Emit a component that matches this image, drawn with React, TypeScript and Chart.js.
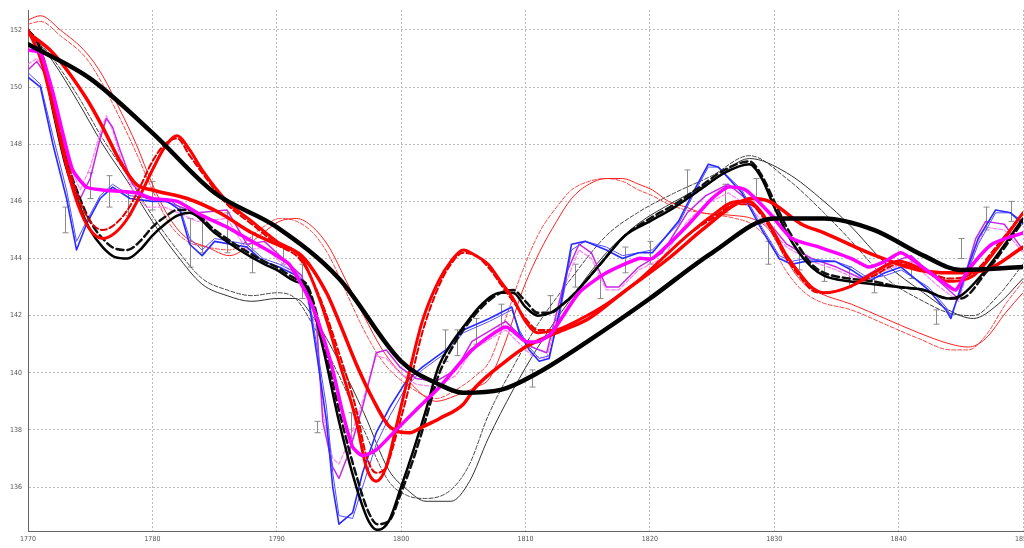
import React, { useEffect, useRef } from "react";
import { Chart, registerables } from "chart.js";
Chart.register(...registerables);

const X_TICKS = [1770, 1780, 1790, 1800, 1810, 1820, 1830, 1840, 1850];
const Y_TICKS = [136, 138, 140, 142, 144, 146, 148, 150, 152];

// Thick smooth black
const A_YEARS = [1770, 1775, 1780, 1785, 1790, 1795, 1800, 1803, 1805, 1808, 1811, 1815, 1820, 1825, 1830, 1834, 1838, 1842, 1845, 1850];
const A_VALS = [151.5, 150.3, 148.4, 146.3, 145.1, 143.3, 140.4, 139.6, 139.3, 139.4, 140.0, 141.1, 142.6, 144.2, 145.4, 145.4, 145.0, 144.1, 143.6, 143.7];

// Medium black (solid + dashed)
const B_YEARS = [1770, 1771, 1772, 1773, 1774, 1775, 1776, 1777, 1778, 1779, 1780, 1781, 1782, 1783, 1785, 1787, 1789, 1790, 1791.5, 1792.4, 1793.7, 1795, 1796.4, 1797.4, 1798.1, 1799, 1800, 1801, 1802, 1803, 1804, 1805, 1806.5, 1808, 1809, 1810, 1811, 1812, 1813, 1814, 1816, 1818, 1820, 1822, 1824, 1826, 1828, 1829, 1830, 1831, 1832, 1833, 1834, 1836, 1838, 1840, 1842, 1844, 1845, 1847, 1850];
const B_VALS = [152.0, 151.3, 149.2, 147.3, 146.0, 145.0, 144.4, 144.05, 144.0, 144.3, 144.8, 145.2, 145.5, 145.6, 144.9, 144.3, 143.8, 143.6, 143.2, 143.0, 140.9, 138.3, 136.0, 134.8, 134.5, 134.8, 136.0, 137.3, 138.7, 140.2, 141.0, 141.6, 142.4, 142.8, 142.8, 142.3, 142.0, 142.1, 142.4, 142.8, 143.8, 144.8, 145.3, 145.8, 146.4, 147.0, 147.3, 146.8, 145.8, 144.9, 144.2, 143.7, 143.4, 143.2, 143.1, 143.0, 142.9, 142.6, 142.7, 143.6, 145.4];
const B_DASH_VALS = [152.0, 151.4, 149.5, 147.6, 146.3, 145.3, 144.7, 144.35, 144.3, 144.6, 145.1, 145.45, 145.7, 145.7, 145.0, 144.4, 143.9, 143.7, 143.3, 143.1, 141.2, 138.7, 136.4, 135.1, 134.7, 134.8, 135.8, 137.0, 138.4, 139.9, 140.8, 141.5, 142.3, 142.8, 142.9, 142.5, 142.1, 142.1, 142.4, 142.8, 143.8, 144.8, 145.4, 145.9, 146.5, 147.1, 147.4, 146.9, 146.0, 145.1, 144.4, 143.8, 143.5, 143.3, 143.2, 143.0, 142.9, 142.6, 142.6, 143.5, 145.3];

// Thin black (solid + dashed)
const C_YEARS = [1770, 1772, 1774, 1776, 1778, 1780, 1782, 1784, 1786, 1788, 1790, 1791.5, 1793, 1795, 1797, 1799, 1800.5, 1802, 1804, 1805.5, 1807, 1809, 1811, 1813.5, 1816.5, 1819, 1822, 1825, 1828, 1831, 1834, 1836, 1839, 1842, 1844, 1846, 1848, 1850];
const C_VALS = [152.0, 150.9, 149.5, 148.0, 146.7, 145.3, 144.1, 143.1, 142.7, 142.5, 142.6, 142.6, 141.9, 140.4, 138.6, 136.6, 135.9, 135.5, 135.5, 136.2, 137.7, 139.4, 140.9, 142.5, 144.2, 145.2, 146.0, 146.7, 147.5, 147.0, 146.0, 145.2, 143.8, 142.8, 142.2, 141.9, 142.4, 143.3];
const C_DASH_VALS = [152.0, 151.0, 149.7, 148.2, 146.9, 145.5, 144.3, 143.3, 142.9, 142.7, 142.8, 142.6, 141.6, 139.9, 138.0, 136.2, 135.7, 135.6, 135.9, 136.8, 138.5, 140.2, 141.7, 143.2, 144.8, 145.6, 146.3, 146.9, 147.6, 146.8, 145.6, 144.7, 143.3, 142.5, 142.1, 142.0, 142.7, 143.8];

// Thick sharp red (solid + dashed)
const D_YEARS = [1770, 1771, 1772, 1773, 1774, 1775, 1776, 1777, 1778, 1779, 1780, 1781, 1782, 1783, 1784, 1786, 1788, 1790, 1792, 1793.5, 1795, 1796.4, 1797.2, 1798, 1798.8, 1799.6, 1800.7, 1801.7, 1803, 1804, 1805, 1806, 1807, 1808, 1809, 1810, 1811, 1812.5, 1814.5, 1816.5, 1819, 1821, 1823, 1825, 1827, 1828, 1829, 1830, 1831, 1832, 1833, 1834, 1836, 1838, 1840, 1842, 1844, 1846, 1848, 1850];
const D_VALS = [152.0, 151.0, 149.3, 147.4, 145.9, 145.0, 144.7, 144.9, 145.4, 146.2, 147.1, 147.9, 148.3, 147.8, 147.1, 146.0, 145.3, 144.6, 144.0, 142.5, 140.4, 138.3, 136.7, 136.2, 136.7, 138.1, 140.1, 141.8, 143.2, 143.9, 144.3, 144.1, 143.8, 143.2, 142.6, 141.8, 141.4, 141.5, 141.9, 142.4, 143.2, 144.0, 144.8, 145.5, 146.0, 146.0, 145.6, 144.9, 144.1, 143.5, 143.0, 142.8, 143.0, 143.5, 143.9, 143.6, 143.2, 143.4, 144.4, 145.6];
const D_DASH_VALS = [152.0, 151.1, 149.5, 147.7, 146.2, 145.3, 145.0, 145.2, 145.7, 146.5, 147.4, 148.0, 148.2, 147.6, 147.0, 145.9, 145.2, 144.5, 143.9, 142.6, 140.7, 138.7, 137.1, 136.5, 136.7, 137.8, 139.6, 141.4, 143.0, 143.8, 144.2, 144.1, 143.7, 143.1, 142.5, 141.9, 141.5, 141.5, 141.9, 142.4, 143.2, 144.0, 144.8, 145.4, 145.9, 145.9, 145.5, 144.8, 144.0, 143.4, 142.9, 142.8, 143.0, 143.4, 143.8, 143.6, 143.3, 143.5, 144.5, 145.6];

// Thick smooth red
const R_YEARS = [1770, 1772, 1774.7, 1776, 1777.4, 1778.7, 1780, 1782.8, 1785.4, 1788, 1790, 1792, 1794, 1795, 1796.4, 1797.7, 1799.1, 1800.7, 1801.7, 1803.1, 1805, 1806, 1808.4, 1810, 1812.5, 1815.1, 1817.8, 1821.5, 1824.2, 1826.9, 1828.2, 1829.6, 1832.2, 1834, 1837.6, 1841.6, 1844.2, 1847, 1850];
const R_VALS = [151.9, 151.2, 149.6, 148.6, 147.4, 146.6, 146.4, 146.1, 145.6, 144.9, 144.5, 144.1, 142.8, 141.8, 140.3, 139.1, 138.1, 137.9, 138.1, 138.4, 138.9, 139.5, 140.4, 140.9, 141.4, 141.9, 142.8, 144.0, 145.0, 145.9, 146.1, 146.0, 145.2, 144.9, 144.2, 143.6, 143.5, 143.6, 144.4];

// Thin red (solid + dashed)
const E_YEARS = [1770, 1771, 1772.6, 1774.7, 1776, 1777.4, 1778.7, 1780, 1781.4, 1782.8, 1784.4, 1786.2, 1788.9, 1790.2, 1791.6, 1792.9, 1794.2, 1795.6, 1797, 1798.5, 1800.4, 1802.8, 1804.4, 1806, 1807.1, 1808.4, 1809.7, 1811.1, 1812.5, 1813.7, 1815.1, 1816.5, 1817.8, 1819.1, 1820.2, 1821.5, 1822.9, 1824.2, 1826.9, 1828.2, 1829.6, 1830.9, 1832.2, 1833.6, 1836.2, 1838.9, 1841.6, 1844.2, 1845.6, 1847, 1848.6, 1850];
const E_VALS = [152.35, 152.5, 152.0, 151.2, 150.4, 149.2, 148.0, 146.6, 145.4, 144.7, 144.4, 144.1, 144.9, 145.3, 145.4, 145.1, 144.4, 143.2, 142.0, 140.8, 139.8, 139.0, 139.2, 139.5, 139.8, 141.1, 142.8, 144.2, 145.3, 146.1, 146.6, 146.8, 146.8, 146.6, 146.4, 146.0, 145.8, 145.6, 145.5, 145.4, 145.0, 144.0, 143.2, 142.8, 142.4, 141.9, 141.4, 141.0, 140.9, 141.2, 142.1, 142.8];
const E_DASH_VALS = [152.2, 152.3, 151.8, 151.0, 150.1, 148.9, 147.7, 146.4, 145.2, 144.6, 144.4, 144.3, 145.1, 145.4, 145.3, 144.9, 144.1, 142.8, 141.5, 140.4, 139.6, 139.1, 139.4, 139.9, 140.4, 141.9, 143.5, 144.9, 145.8, 146.4, 146.7, 146.8, 146.7, 146.4, 146.2, 145.9, 145.7, 145.6, 145.4, 145.2, 144.6, 143.6, 142.9, 142.5, 142.2, 141.7, 141.2, 140.8, 140.8, 141.3, 142.4, 143.2];

// Blue (two close lines)
const F_YEARS = [1770, 1771, 1772, 1773.1, 1773.9, 1774.7, 1775.8, 1776.8, 1778.2, 1780, 1781.2, 1782.2, 1783, 1784, 1785, 1787.6, 1788.9, 1790.2, 1791.6, 1792.4, 1793.2, 1794, 1794.5, 1795, 1796.1, 1796.9, 1798, 1799.1, 1800.4, 1801.7, 1803.6, 1805, 1807.1, 1808.9, 1809.5, 1810.3, 1811.1, 1811.9, 1812.7, 1813.7, 1814.8, 1816.5, 1817.8, 1819.1, 1820.2, 1822.3, 1823.7, 1824.7, 1825.5, 1827.4, 1829, 1830.4, 1831.4, 1832.5, 1834.9, 1836.2, 1837.6, 1838.9, 1840.2, 1842.4, 1843.8, 1844.2, 1845, 1846.4, 1847.8, 1849, 1850];
const F_VALS = [150.35, 150.0, 148.0, 146.1, 144.3, 145.2, 146.1, 146.5, 146.1, 146.0, 146.0, 145.7, 144.5, 144.1, 144.6, 144.4, 143.9, 143.7, 143.4, 143.0, 140.7, 138.3, 136.0, 134.7, 135.1, 136.5, 137.9, 138.8, 139.7, 140.2, 140.8, 141.5, 141.9, 142.3, 141.4, 140.8, 140.4, 140.5, 142.1, 144.5, 144.6, 144.3, 144.0, 144.2, 144.2, 145.3, 146.5, 147.3, 147.2, 146.3, 145.0, 144.0, 143.8, 143.9, 143.9, 143.6, 143.2, 143.5, 143.7, 142.9, 142.2, 141.9, 143.0, 144.7, 145.7, 145.6, 145.2];
const F2_VALS = [150.5, 150.1, 148.3, 146.4, 144.6, 145.3, 146.2, 146.6, 146.2, 146.1, 146.1, 145.8, 144.7, 144.3, 144.7, 144.5, 144.0, 143.8, 143.5, 143.1, 141.0, 138.8, 136.5, 135.0, 134.9, 136.0, 137.5, 138.5, 139.5, 140.1, 140.7, 141.4, 141.8, 142.2, 141.5, 140.9, 140.5, 140.6, 141.9, 144.3, 144.6, 144.4, 144.1, 144.2, 144.3, 145.2, 146.4, 147.2, 147.2, 146.4, 145.1, 144.1, 143.9, 144.0, 143.9, 143.7, 143.3, 143.4, 143.6, 143.0, 142.3, 142.0, 142.9, 144.5, 145.6, 145.6, 145.3];

// Thick magenta
const G_YEARS = [1770, 1771, 1772, 1772.9, 1773.6, 1774.7, 1776, 1778.7, 1780, 1782, 1784, 1786, 1788, 1790, 1791, 1792.1, 1792.9, 1793.7, 1794.5, 1795.3, 1796.1, 1796.9, 1798, 1799.6, 1801.2, 1803.1, 1805.7, 1808.4, 1810, 1811.1, 1812.1, 1814.3, 1816.5, 1819.1, 1820.2, 1822.9, 1825, 1826.3, 1827.7, 1829.6, 1831.4, 1833.6, 1836.2, 1837.6, 1838.9, 1840.2, 1841.6, 1843.8, 1844.6, 1845.6, 1847.5, 1850];
const G_VALS = [151.3, 151.2, 149.8, 148.2, 147.1, 146.5, 146.4, 146.3, 146.1, 146.0, 145.5, 145.1, 144.6, 144.1, 143.8, 143.0, 142.3, 141.3, 140.1, 138.6, 137.4, 137.1, 137.3, 138.0, 138.7, 139.5, 140.8, 141.6, 141.1, 141.1, 141.4, 142.8, 143.5, 144.0, 144.0, 145.1, 146.1, 146.5, 146.4, 145.6, 144.7, 144.4, 144.0, 143.7, 143.9, 144.2, 143.8, 143.1, 142.9, 143.6, 144.5, 144.9];

// Thin magenta (solid + light dashed)
const H_YEARS = [1770, 1770.7, 1771.5, 1772.3, 1773.4, 1774.2, 1775, 1775.8, 1776.3, 1776.8, 1777.4, 1778.4, 1779.5, 1781, 1783.6, 1786, 1787.6, 1789, 1790.5, 1792, 1793.2, 1793.7, 1794.5, 1795, 1795.8, 1796.9, 1798, 1798.8, 1799.9, 1801.2, 1802.8, 1804.4, 1805.7, 1808.4, 1810.5, 1811.7, 1813.3, 1814.3, 1815.3, 1816.5, 1817.5, 1819.1, 1821, 1823, 1824.5, 1826.3, 1828, 1829.5, 1831, 1833, 1835, 1837, 1839, 1841, 1843, 1844.8, 1846.2, 1847, 1848.5, 1850];
const H_VALS = [150.6, 150.9, 150.4, 148.6, 146.8, 146.1, 146.8, 148.2, 148.9, 148.6, 147.8, 146.6, 146.1, 146.0, 145.6, 145.7, 144.5, 144.6, 144.0, 143.4, 141.8, 138.3, 136.7, 136.3, 137.2, 138.8, 140.7, 140.8, 140.2, 139.8, 139.7, 140.1, 141.1, 141.8, 140.9, 140.7, 143.5, 144.5, 144.2, 143.0, 143.0, 143.7, 144.2, 145.6, 146.2, 146.6, 146.0, 145.3, 144.5, 144.0, 143.7, 143.3, 143.8, 144.1, 143.3, 142.6, 144.7, 145.3, 145.2, 144.3];
const H2_VALS = [150.8, 151.0, 150.6, 149.0, 147.2, 146.4, 147.2, 148.4, 149.0, 148.5, 147.6, 146.4, 145.8, 145.8, 145.3, 145.4, 144.3, 144.4, 143.8, 143.2, 141.5, 138.6, 137.0, 136.8, 137.6, 139.0, 140.6, 140.5, 140.0, 139.6, 139.5, 139.9, 140.8, 141.5, 140.6, 140.5, 143.2, 144.3, 144.0, 142.9, 142.9, 143.6, 144.0, 145.3, 145.9, 146.3, 145.8, 145.1, 144.4, 143.9, 143.6, 143.2, 143.6, 143.9, 143.1, 142.5, 144.4, 145.1, 145.0, 144.2];

// Observations with error bars
const ERR_YEARS = [1773, 1775, 1776.5, 1778, 1780, 1783, 1784, 1786, 1788, 1790.5, 1792, 1793.2, 1796, 1803.5, 1804.5, 1806, 1808, 1810.5, 1812, 1814, 1816, 1818, 1820, 1823, 1826, 1828.5, 1829.5, 1832, 1834, 1836, 1838, 1841, 1843, 1845, 1847, 1849];
const ERR_LO = [144.9, 146.1, 145.8, 145.5, 145.7, 143.7, 144.2, 144.2, 143.5, 143.8, 142.6, 137.9, 137.7, 140.4, 140.6, 141.0, 141.6, 139.5, 142.1, 143.0, 142.6, 143.5, 143.8, 146.1, 145.6, 146.1, 143.8, 143.6, 143.2, 143.0, 142.8, 143.3, 141.7, 144.0, 145.0, 145.3];
const ERR_HI = [145.8, 147.0, 146.9, 146.3, 146.7, 145.4, 145.5, 145.6, 144.9, 144.4, 143.8, 138.3, 138.6, 141.5, 141.5, 141.9, 142.4, 140.1, 142.7, 143.8, 143.4, 144.4, 144.6, 147.1, 146.6, 146.8, 144.6, 144.3, 143.9, 143.7, 143.4, 144.0, 142.2, 144.7, 145.8, 146.0];

const pts = (xs: number[], ys: number[]) => xs.map((x, i) => ({ x, y: ys[i] }));

const line = (data: any, color: string, width: number, opts: any = {}) => ({
  data,
  borderColor: color,
  borderWidth: width,
  pointRadius: 0,
  fill: false,
  borderJoinStyle: "round",
  borderCapStyle: "round",
  ...opts,
});

export default function App() {
  const ref = useRef<HTMLCanvasElement>(null);
  useEffect(() => {
    document.body.style.margin = "0";
    const errPlugin = {
      id: "errbars",
      beforeDatasetsDraw(chart: any) {
        const { ctx } = chart;
        const x = chart.scales.x;
        const y = chart.scales.y;
        ctx.save();
        ctx.strokeStyle = "#8a8a8a";
        ctx.lineWidth = 1;
        ERR_YEARS.forEach((yr, i) => {
          const px = Math.round(x.getPixelForValue(yr)) + 0.5;
          const p1 = y.getPixelForValue(ERR_LO[i]);
          const p2 = y.getPixelForValue(ERR_HI[i]);
          ctx.beginPath();
          ctx.moveTo(px, p1);
          ctx.lineTo(px, p2);
          ctx.moveTo(px - 3, p1);
          ctx.lineTo(px + 3, p1);
          ctx.moveTo(px - 3, p2);
          ctx.lineTo(px + 3, p2);
          ctx.stroke();
        });
        ctx.restore();
      },
    };
    const mono = { cubicInterpolationMode: "monotone" };
    const chart = new Chart(ref.current!, {
      type: "line",
      data: {
        datasets: [
          line(pts(A_YEARS, A_VALS), "#000000", 4.5, mono),
          line(pts(G_YEARS, G_VALS), "#ff00ff", 3.5, { tension: 0.2 }),
          line(pts(R_YEARS, R_VALS), "#ff0000", 3.5, mono),
          line(pts(D_YEARS, D_VALS), "#ff0000", 3, mono),
          line(pts(D_YEARS, D_DASH_VALS), "#e00000", 2, { ...mono, borderDash: [6, 3] }),
          line(pts(B_YEARS, B_VALS), "#000000", 2.5, mono),
          line(pts(B_YEARS, B_DASH_VALS), "#111111", 2.5, { ...mono, borderDash: [7, 4] }),
          line(pts(F_YEARS, F_VALS), "#2a2aff", 1.6, { tension: 0 }),
          line(pts(F_YEARS, F2_VALS), "#5050ff", 1, { tension: 0 }),
          line(pts(H_YEARS, H_VALS), "#c828e6", 1.5, { tension: 0 }),
          line(pts(H_YEARS, H2_VALS), "#ff80f0", 1.2, { tension: 0, borderDash: [4, 2] }),
          line(pts(E_YEARS, E_VALS), "#ff2020", 1, mono),
          line(pts(E_YEARS, E_DASH_VALS), "#ff4040", 1, { ...mono, borderDash: [4, 2] }),
          line(pts(C_YEARS, C_VALS), "#333333", 1, mono),
          line(pts(C_YEARS, C_DASH_VALS), "#444444", 1, { ...mono, borderDash: [4, 2] }),
        ] as any,
      },
      options: {
        responsive: false,
        animation: false,
        events: [],
        layout: { padding: { top: 10, right: 1, left: 0, bottom: 0 }, autoPadding: false },
        plugins: { legend: { display: false }, tooltip: { enabled: false } },
        scales: {
          x: {
            type: "linear",
            min: 1770,
            max: 1850,
            afterBuildTicks: (s: any) => {
              s.ticks = X_TICKS.map((v) => ({ value: v }));
            },
            afterFit: (s: any) => {
              s.height = 17;
              s.paddingLeft = 0;
              s.paddingRight = 0;
            },
            ticks: {
              maxRotation: 0,
              autoSkip: false,
              padding: 4,
              color: "#555",
              font: { size: 7, family: "'Liberation Sans Narrow', 'DejaVu Sans Condensed', 'Liberation Sans', sans-serif" },
              callback: (v: any) => String(v),
            },
            grid: { color: "#bdbdbd", lineWidth: 1, drawTicks: false },
            border: { display: true, color: "#666", width: 1, dash: [2, 2] },
          },
          y: {
            type: "linear",
            min: 134.46,
            max: 152.7,
            afterBuildTicks: (s: any) => {
              s.ticks = Y_TICKS.map((v) => ({ value: v }));
            },
            afterFit: (s: any) => {
              s.width = 28;
              s.paddingTop = 0;
              s.paddingBottom = 0;
            },
            ticks: {
              autoSkip: false,
              padding: 6,
              color: "#555",
              font: { size: 7, family: "'Liberation Sans Narrow', 'DejaVu Sans Condensed', 'Liberation Sans', sans-serif" },
              callback: (v: any) => String(v),
            },
            grid: { color: "#bdbdbd", lineWidth: 1, drawTicks: false },
            border: { display: true, color: "#666", width: 1, dash: [2, 2] },
          },
        },
      } as any,
      plugins: [errPlugin],
    });
    return () => chart.destroy();
  }, []);
  return (
    <div style={{ position: "fixed", left: 0, top: 0, width: 1024, height: 548, background: "#fff" }}>
      <canvas ref={ref} width={1024} height={548} style={{ display: "block" }} />
    </div>
  );
}
